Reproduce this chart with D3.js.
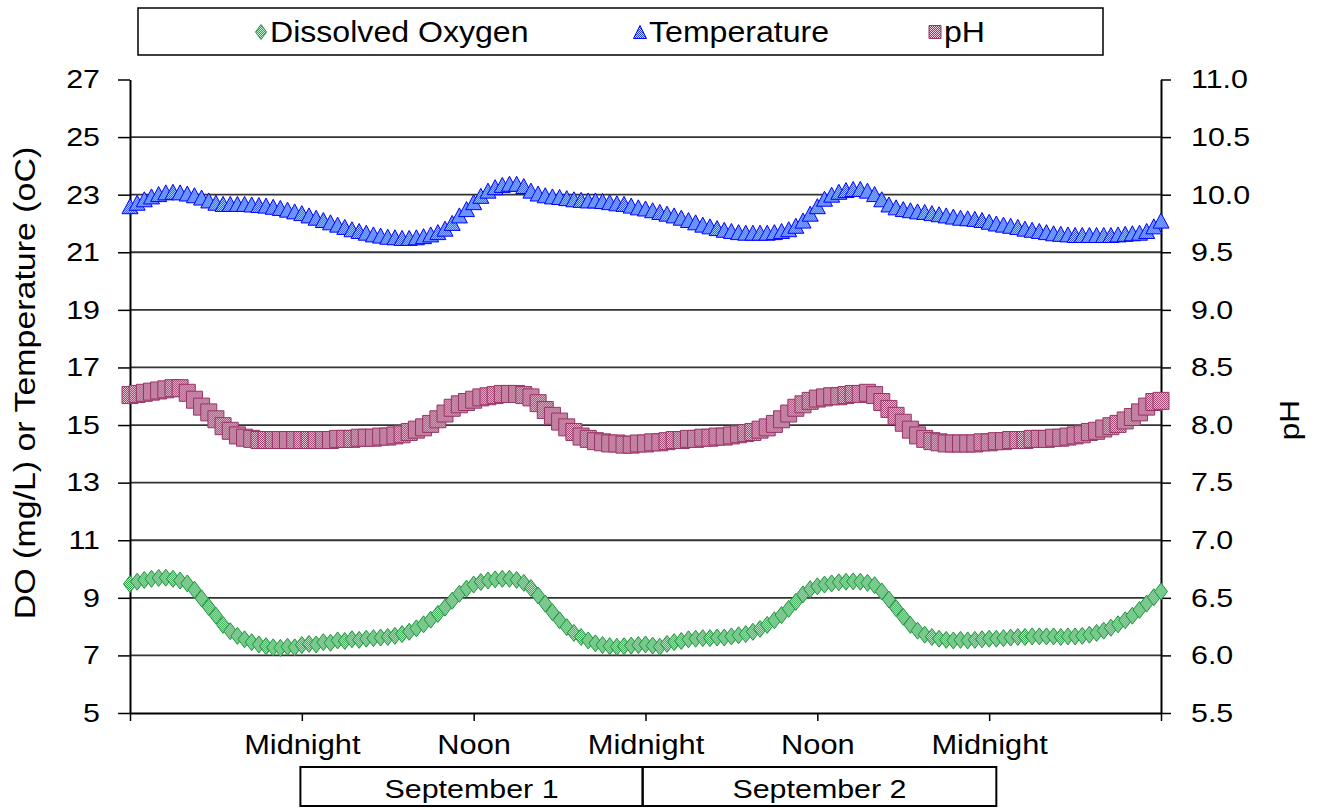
<!DOCTYPE html>
<html>
<head>
<meta charset="utf-8">
<script src="https://cdn.jsdelivr.net/npm/d3@7"></script>
<style>
  body { margin: 0; background: #fff; }
  text { font-family: "Liberation Sans", Arial, sans-serif; fill: #000; }
</style>
</head>
<body>
<div id="chart"></div>
<script>
'use strict';

// readings every half hour, hour 0 = noon Aug 31, hour 72 = noon Sep 3
var stepHours = 0.5;

var dissolvedOxygen = [
  9.48, 9.56, 9.62, 9.66, 9.69, 9.70, 9.66, 9.60, 9.50, 9.28, 8.98, 8.68,
  8.38, 8.06, 7.84, 7.68, 7.56, 7.46, 7.38, 7.32, 7.28, 7.26, 7.30, 7.28,
  7.36, 7.40, 7.38, 7.46, 7.44, 7.52, 7.50, 7.56, 7.54, 7.58, 7.60, 7.62,
  7.64, 7.68, 7.74, 7.82, 7.94, 8.08, 8.24, 8.44, 8.66, 8.90, 9.14, 9.32,
  9.46, 9.55, 9.60, 9.64, 9.66, 9.66, 9.62, 9.52, 9.34, 9.08, 8.80, 8.50,
  8.22, 7.98, 7.78, 7.64, 7.52, 7.42, 7.36, 7.32, 7.30, 7.32, 7.34, 7.36,
  7.38, 7.34, 7.30, 7.40, 7.46, 7.50, 7.56, 7.58, 7.60, 7.60, 7.62, 7.62,
  7.66, 7.70, 7.74, 7.82, 7.92, 8.06, 8.22, 8.40, 8.62, 8.86, 9.12, 9.30,
  9.40, 9.46, 9.50, 9.54, 9.56, 9.57, 9.56, 9.52, 9.44, 9.22, 8.94, 8.64,
  8.34, 8.06, 7.86, 7.72, 7.64, 7.58, 7.54, 7.52, 7.54, 7.52, 7.54, 7.56,
  7.58, 7.58, 7.60, 7.62, 7.64, 7.64, 7.66, 7.66, 7.66, 7.66, 7.64, 7.66,
  7.66, 7.68, 7.72, 7.78, 7.86, 7.96, 8.08, 8.22, 8.38, 8.58, 8.80, 9.02,
  9.22
];

var temperature = [
  22.60, 22.72, 22.84, 22.94, 23.02, 23.08, 23.10, 23.08, 23.04, 22.98, 22.90, 22.80,
  22.72, 22.68, 22.68, 22.68, 22.68, 22.66, 22.64, 22.62, 22.58, 22.54, 22.48, 22.42,
  22.36, 22.28, 22.20, 22.12, 22.04, 21.96, 21.88, 21.80, 21.74, 21.68, 21.62, 21.58,
  21.54, 21.52, 21.50, 21.50, 21.52, 21.56, 21.62, 21.70, 21.82, 22.02, 22.28, 22.50,
  22.74, 22.96, 23.14, 23.26, 23.34, 23.38, 23.38, 23.30, 23.14, 23.04, 22.98, 22.94,
  22.92, 22.88, 22.84, 22.82, 22.80, 22.80, 22.78, 22.74, 22.70, 22.68, 22.62, 22.56,
  22.52, 22.46, 22.40, 22.34, 22.28, 22.20, 22.12, 22.04, 21.96, 21.90, 21.84, 21.78,
  21.74, 21.70, 21.68, 21.68, 21.68, 21.68, 21.70, 21.74, 21.80, 21.92, 22.10, 22.34,
  22.60, 22.86, 23.00, 23.10, 23.16, 23.20, 23.20, 23.14, 23.02, 22.84, 22.66, 22.56,
  22.50, 22.46, 22.42, 22.40, 22.36, 22.32, 22.28, 22.24, 22.20, 22.18, 22.16, 22.12,
  22.06, 22.00, 21.96, 21.92, 21.88, 21.82, 21.78, 21.74, 21.70, 21.66, 21.64, 21.62,
  21.60, 21.60, 21.60, 21.60, 21.60, 21.60, 21.62, 21.64, 21.66, 21.68, 21.74, 21.90,
  22.10
];

var pH = [
  8.26, 8.27, 8.28, 8.29, 8.30, 8.31, 8.32, 8.32, 8.28, 8.22, 8.16, 8.11,
  8.05, 7.99, 7.95, 7.91, 7.89, 7.88, 7.87, 7.87, 7.87, 7.87, 7.87, 7.87,
  7.87, 7.87, 7.87, 7.87, 7.87, 7.88, 7.88, 7.88, 7.89, 7.89, 7.89, 7.90,
  7.90, 7.91, 7.92, 7.94, 7.96, 7.98, 8.01, 8.05, 8.10, 8.15, 8.18, 8.20,
  8.22, 8.24, 8.25, 8.26, 8.27, 8.27, 8.27, 8.26, 8.24, 8.19, 8.13, 8.08,
  8.03, 7.98, 7.94, 7.90, 7.88, 7.86, 7.85, 7.84, 7.84, 7.83, 7.83, 7.84,
  7.84, 7.85, 7.85, 7.86, 7.87, 7.87, 7.88, 7.88, 7.89, 7.89, 7.90, 7.90,
  7.91, 7.92, 7.93, 7.94, 7.96, 7.98, 8.01, 8.05, 8.10, 8.15, 8.18, 8.21,
  8.23, 8.24, 8.25, 8.25, 8.26, 8.27, 8.27, 8.28, 8.26, 8.20, 8.14, 8.08,
  8.02, 7.96, 7.91, 7.88, 7.86, 7.85, 7.84, 7.84, 7.84, 7.84, 7.84, 7.85,
  7.85, 7.86, 7.86, 7.87, 7.87, 7.87, 7.88, 7.88, 7.88, 7.89, 7.89, 7.90,
  7.91, 7.92, 7.94, 7.95, 7.97, 7.99, 8.01, 8.04, 8.07, 8.11, 8.16, 8.20,
  8.21
];

var leftTicks = [5, 7, 9, 11, 13, 15, 17, 19, 21, 23, 25, 27];
var rightTicks = [5.5, 6.0, 6.5, 7.0, 7.5, 8.0, 8.5, 9.0, 9.5, 10.0, 10.5, 11.0];
var timeTicks = [0, 12, 24, 36, 48, 60, 72];
var timeLabels = ["", "Midnight", "Noon", "Midnight", "Noon", "Midnight", ""];
var dayLabels = ["September 1", "September 2"];
var daySpans = [[11.9, 35.8], [35.8, 60.5]];

var width = 1319, height = 810;
var stretch = 1.17; // the source text is drawn a bit wide

var svg = d3.select("#chart")
  .append("svg")
  .attr("width", width)
  .attr("height", height);

var margin = {top: 79.5, right: 158, bottom: 97, left: 130};
var plotW = width - margin.left - margin.right;
var plotH = height - margin.top - margin.bottom;

var x = d3.scaleLinear().domain([0, 72]).range([margin.left, margin.left + plotW]);
var yLeft = d3.scaleLinear().domain([5, 27]).range([margin.top + plotH, margin.top]);
var yRight = d3.scaleLinear().domain([5.5, 11]).range([margin.top + plotH, margin.top]);

// fill patterns for the markers
var defs = svg.append("defs");
function addPattern(id, dark, light) {
  var p = defs.append("pattern")
    .attr("id", id)
    .attr("patternUnits", "userSpaceOnUse")
    .attr("width", 2).attr("height", 2);
  p.append("rect").attr("width", 2).attr("height", 2).attr("fill", light);
  p.append("rect").attr("width", 1).attr("height", 1).attr("fill", dark);
  p.append("rect").attr("x", 1).attr("y", 1).attr("width", 1).attr("height", 1).attr("fill", dark);
}
addPattern("patDO", "#2ea64c", "#c4ecd0");
addPattern("patT", "#1f3cff", "#b4ecff");
addPattern("patPH", "#993366", "#ecd0de");

function diamond(w, h) { return "M0," + (-h / 2) + "L" + (w / 2) + ",0L0," + (h / 2) + "L" + (-w / 2) + ",0Z"; }
function triangle(w, h) { return "M0," + (-h / 2) + "L" + (w / 2) + "," + (h / 2) + "L" + (-w / 2) + "," + (h / 2) + "Z"; }
function square(w, h) { return "M" + (-w / 2) + "," + (-h / 2) + "h" + w + "v" + h + "h" + (-w) + "Z"; }

var series = [
  {name: "Dissolved Oxygen", values: dissolvedOxygen, y: yLeft, shape: diamond(13, 17), key: diamond(11, 15), stroke: "#1c9638", fill: "url(#patDO)"},
  {name: "Temperature", values: temperature, y: yLeft, shape: triangle(16, 15), key: triangle(13, 13), stroke: "#0000ff", fill: "url(#patT)"},
  {name: "pH", values: pH, y: yRight, shape: square(16, 17), key: square(12, 13), stroke: "#993366", fill: "url(#patPH)"}
];

// grid lines
svg.append("g")
  .selectAll("line")
  .data(leftTicks.filter(function(d) { return d !== 5 && d !== 27; }))
  .enter().append("line")
  .attr("x1", x(0)).attr("x2", x(72))
  .attr("y1", function(d) { return yLeft(d); })
  .attr("y2", function(d) { return yLeft(d); })
  .attr("stroke", "#333")
  .attr("stroke-width", 1.8);

//left axis
var gL = svg.append("g")
  .attr("transform", "translate(" + margin.left + ",0)")
  .call(d3.axisLeft(yLeft).tickValues(leftTicks).tickSize(12).tickSizeOuter(0).tickFormat(d3.format("d")));

//right axis
var gR = svg.append("g")
  .attr("transform", "translate(" + (margin.left + plotW) + ",0)")
  .call(d3.axisRight(yRight).tickValues(rightTicks).tickSize(10).tickSizeOuter(0).tickFormat(d3.format(".1f")));

//bottom axis
var gB = svg.append("g")
  .attr("transform", "translate(0," + (margin.top + plotH) + ")")
  .call(d3.axisBottom(x).tickValues(timeTicks).tickSize(8).tickSizeOuter(0)
    .tickFormat(function(d, i) { return timeLabels[i]; }));

[gL, gR, gB].forEach(function(g) {
  g.select(".domain").attr("stroke", "#000").attr("stroke-width", 2);
  g.selectAll(".tick line").attr("stroke", "#000").attr("stroke-width", 1.5);
  g.selectAll(".tick text")
    .attr("font-size", 26)
    .attr("font-family", "'Liberation Sans', Arial, sans-serif")
    .attr("fill", "#000");
});
gL.selectAll(".tick text").attr("x", -30 / stretch).attr("transform", "scale(" + stretch + ",1)");
gR.selectAll(".tick text").attr("x", 30 / stretch).attr("transform", "scale(" + stretch + ",1)");
gB.selectAll(".tick text")
  .attr("y", 21)
  .attr("font-size", 28)
  .attr("transform", "scale(1.1,1)");

// series markers
series.forEach(function(s) {
  svg.append("g")
    .selectAll("path")
    .data(s.values)
    .enter().append("path")
    .attr("d", s.shape)
    .attr("transform", function(d, i) { return "translate(" + x(i * stepHours) + "," + s.y(d) + ")"; })
    .attr("fill", s.fill)
    .attr("stroke", s.stroke)
    .attr("stroke-width", 1);
});

// axis titles
svg.append("text")
  .attr("transform", "translate(35," + 383 + ") rotate(-90) scale(" + stretch + ",1)")
  .attr("text-anchor", "middle")
  .attr("font-size", 29)
  .text("DO (mg/L) or Temperature (oC)");

svg.append("text")
  .attr("transform", "translate(1299," + 420 + ") rotate(-90) scale(" + stretch + ",1)")
  .attr("text-anchor", "middle")
  .attr("font-size", 27)
  .text("pH");

// date boxes under the time axis
var days = svg.append("g");
dayLabels.forEach(function(label, i) {
  var x0 = x(daySpans[i][0]), x1 = x(daySpans[i][1]);
  days.append("rect")
    .attr("x", x0).attr("y", 767)
    .attr("width", x1 - x0).attr("height", 39)
    .attr("fill", "none").attr("stroke", "#000").attr("stroke-width", 2);
  days.append("text")
    .attr("transform", "translate(" + ((x0 + x1) / 2) + ",798) scale(" + stretch + ",1)")
    .attr("text-anchor", "middle")
    .attr("font-size", 26)
    .text(label);
});

// legend
var legend = svg.append("g");
legend.append("rect")
  .attr("x", 138).attr("y", 8).attr("width", 965).attr("height", 47)
  .attr("fill", "#fff").attr("stroke", "#000").attr("stroke-width", 1.5);

var legendX = [261, 640, 935];
series.forEach(function(s, i) {
  legend.append("path")
    .attr("d", s.key)
    .attr("transform", "translate(" + legendX[i] + ",32)")
    .attr("fill", s.fill)
    .attr("stroke", s.stroke);
  legend.append("text")
    .attr("transform", "translate(" + (legendX[i] + 9) + ",42) scale(1.07,1)")
    .attr("font-size", 30)
    .text(s.name);
});
</script>
</body>
</html>
